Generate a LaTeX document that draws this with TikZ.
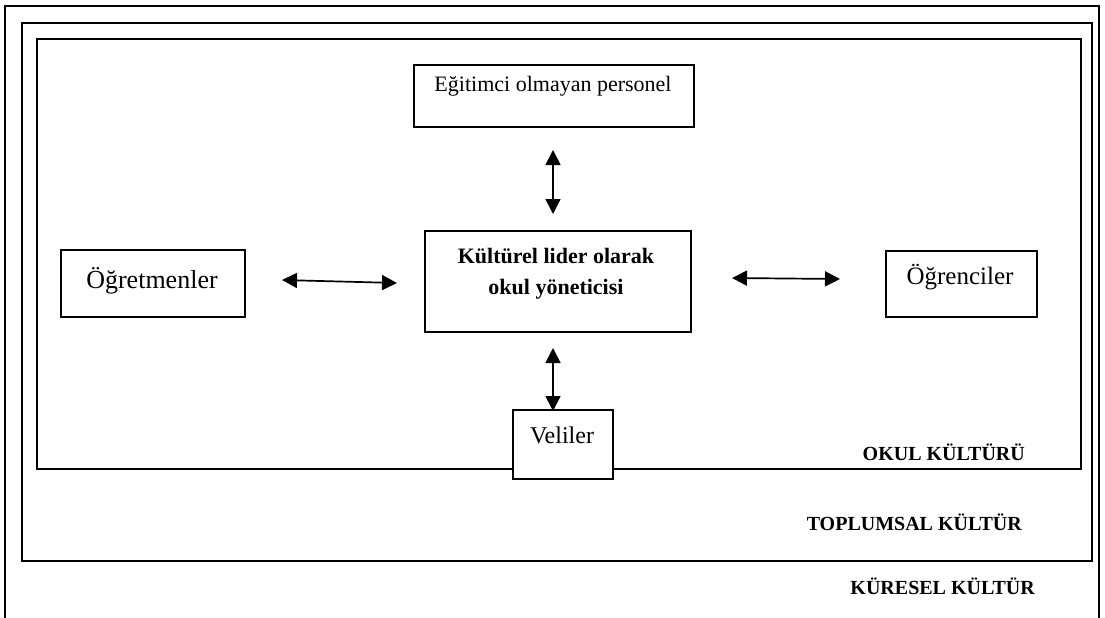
\documentclass[tikz,border=0pt]{standalone}
\usepackage{fontspec}
\setmainfont{Liberation Serif}
\usetikzlibrary{arrows.meta}
\tikzset{
  frame/.style={draw=black, line width=1.7pt},
  box/.style={draw=black, line width=1.5pt, fill=white, inner sep=0pt},
  lbl/.style={inner sep=0pt, font=\fontsize{24}{27}\selectfont},
  corner/.style={inner sep=0pt, anchor=east, font=\bfseries\fontsize{20}{23}\selectfont},
  link/.style={line width=1.7pt, {Triangle[length=15pt,width=15pt]}-{Triangle[length=15pt,width=15pt]}}
}
\begin{document}
\begin{tikzpicture}[x=1pt,y=-1pt]
\useasboundingbox (0,0) rectangle (1105,618);
% frames
\draw[frame, line width=2pt] (5,625) -- (5,6) -- (1099,6) -- (1099,625);
\draw[frame] (22,23) rectangle (1092,561);
\draw[frame] (37,39) rectangle (1081,469);
% boxes
\node[box, minimum width=280pt, minimum height=62pt] (per) at (554,96) {};
\node[box, minimum width=266pt, minimum height=101pt] (lead) at (558,281.5) {};
\node[box, minimum width=184pt, minimum height=67pt] (ogr) at (153,283.5) {};
\node[box, minimum width=151pt, minimum height=66pt] (ogn) at (961.5,284) {};
\node[box, minimum width=100pt, minimum height=69pt] (vel) at (563,444.5) {};
% texts
\node[lbl, font=\fontsize{22}{25}\selectfont] (perT) at (553,86) {Eğitimci olmayan personel};
\node[lbl, font=\bfseries\fontsize{22}{31}\selectfont, align=center] (leadT) at (556,274) {Kültürel lider olarak\\okul yöneticisi};
\node[lbl, font=\fontsize{26}{29}\selectfont] (ogrT) at (152,281) {Öğretmenler};
\node[lbl, font=\fontsize{25}{28}\selectfont] (ognT) at (960,277) {Öğrenciler};
\node[lbl] (velT) at (562,435) {Veliler};
\node[corner] (okul) at (1025,452) {OKUL KÜLTÜRÜ};
\node[corner] (topl) at (1022,522) {TOPLUMSAL KÜLTÜR};
\node[corner] (kur) at (1035,586) {KÜRESEL KÜLTÜR};
% arrow ends
\coordinate (a1) at (282,280);
\coordinate (a2) at (397,283);
\coordinate (b1) at (732,278);
\coordinate (b2) at (840,279);
\coordinate (c1) at (553,150);
\coordinate (c2) at (553,214);
\coordinate (d1) at (553,348);
\coordinate (d2) at (553,411);
\draw[link] (a1) -- (a2);
\draw[link] (b1) -- (b2);
\draw[link] (c1) -- (c2);
\draw[link] (d1) -- (d2);
\end{tikzpicture}
\end{document}
